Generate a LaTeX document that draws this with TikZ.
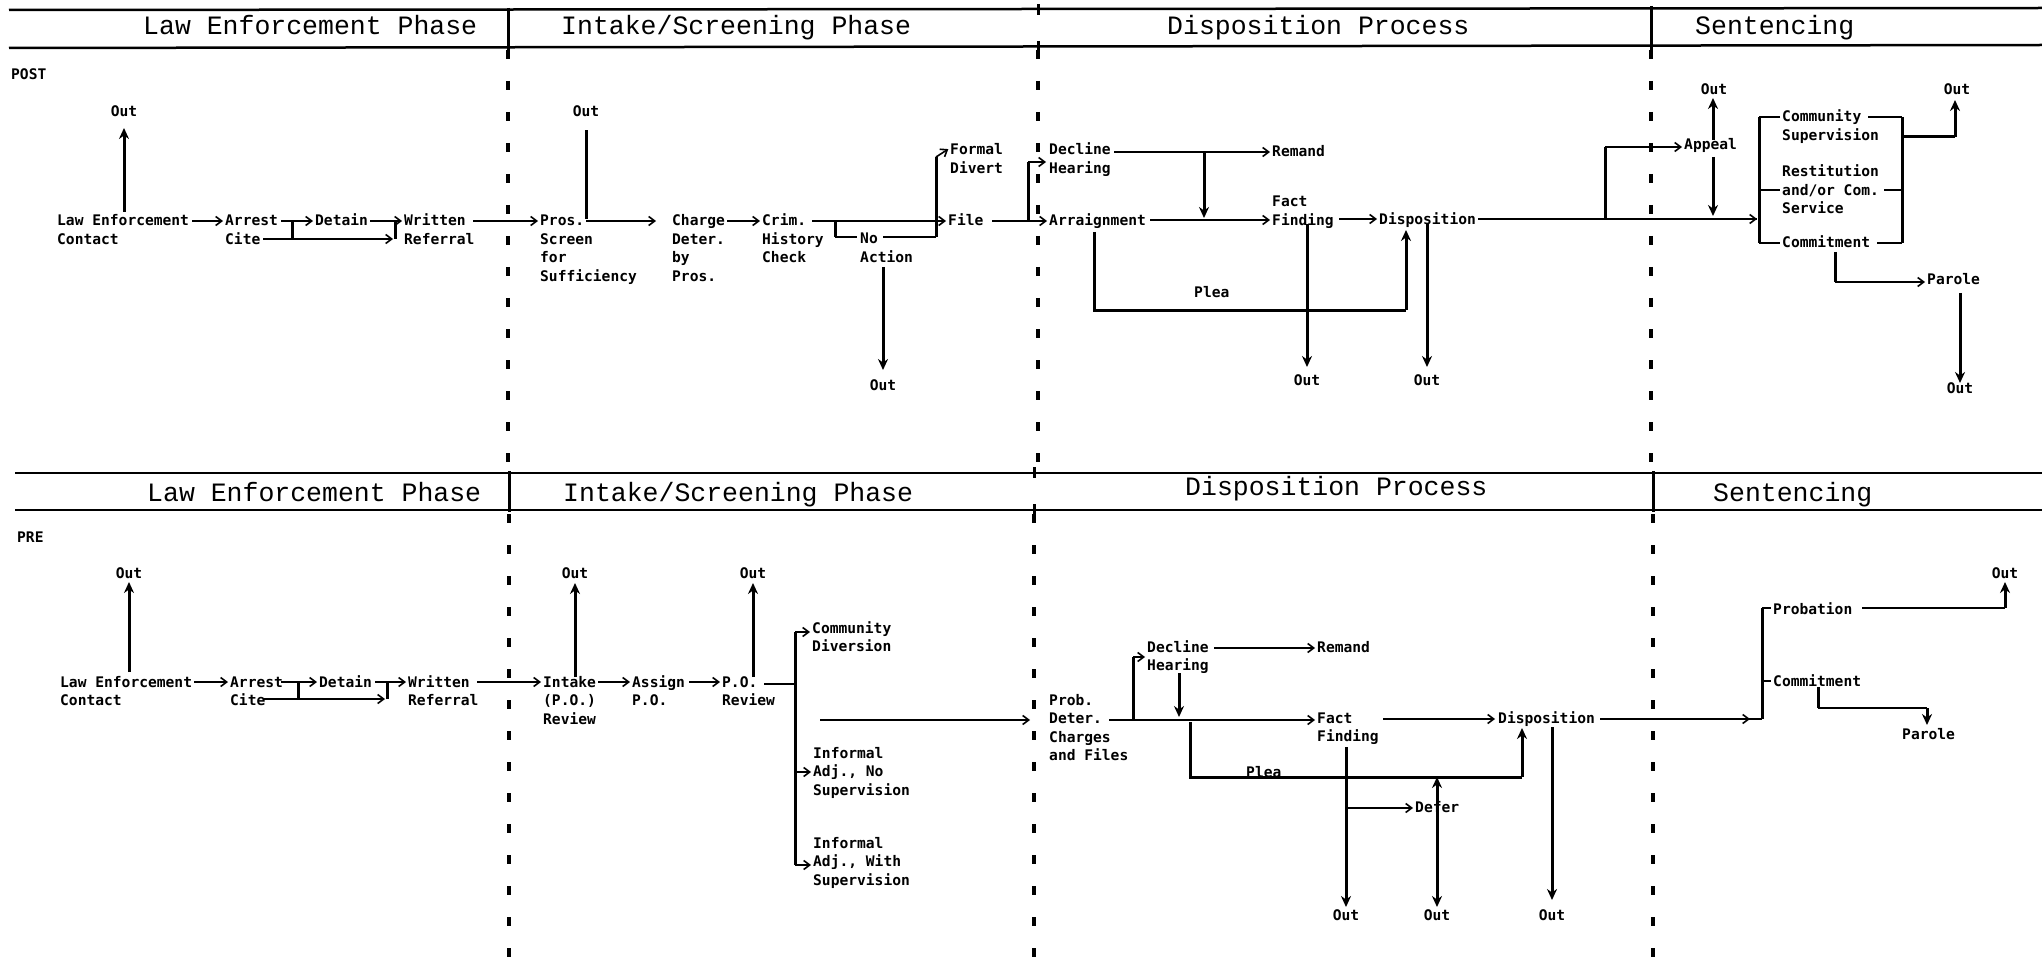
\documentclass[tikz,border=0pt]{standalone}
\usepackage{fontspec}
\usetikzlibrary{arrows.meta}
\newfontfamily\hdrfam{Liberation Mono}
\newfontfamily\nodefam{DejaVu Sans Mono}
\newcommand\hdrf{\hdrfam\fontsize{26.5}{30}\selectfont}
\newcommand\nodef{\nodefam\bfseries\fontsize{14.6}{18.5}\selectfont}
\newcommand\ml[1]{\vtop{\baselineskip=18.5pt\lineskiplimit=-100pt\lineskip=0pt\halign{##\hfil\cr#1\crcr}}}
\tikzset{
  lbl/.style={font=\nodef, inner sep=0pt, anchor=base west},
  outl/.style={font=\nodef, inner sep=0pt, anchor=base},
  hdr/.style={font=\hdrf, inner sep=0pt, anchor=base west},
  lnw/.style={line width=1.6pt},
  thk/.style={line width=3pt},
  arw/.style={lnw, -{Straight Barb[length=6pt,width=9pt,line width=1.6pt]}},
  arn/.style={arw, shorten >=2pt},
  tarw/.style={thk, -{Stealth[length=11pt,width=10pt]}},
  hline/.style={line width=2.5pt},
  dv/.style={line width=3.5pt, dash pattern=on 9pt off 22pt},
}
\begin{document}
\begin{tikzpicture}[x=1pt,y=-1pt]
\fill[white] (0,0) rectangle (2042,968);
\useasboundingbox (0,0) rectangle (2042,968);

% ---------------- headers ----------------
\draw[hline] (9,10) -- (2042,8);
\draw[hline] (9,48) -- (2042,45);
\draw[hline] (15,473) -- (2042,473);
\draw[hline] (15,510) -- (2042,510);
\draw[thk] (508,8) -- (508,50);
\draw[thk] (1651,6) -- (1651,50);
\draw[thk] (509,471) -- (509,512);
\draw[thk] (1653,471) -- (1653,512);
\draw[thk] (1038,4) -- (1038,15);
\draw[thk] (1038,41) -- (1038,54);
\draw[thk] (1034,467) -- (1034,478);
\draw[thk] (1034,504) -- (1034,516);

\node[hdr] (h1) at (143,35) {Law Enforcement Phase};
\node[hdr] (h2) at (561,35) {Intake/Screening Phase};
\node[hdr] (h3) at (1167,35) {Disposition Process};
\node[hdr] (h4) at (1695,35) {Sentencing};
\node[hdr] (h5) at (147,501) {Law Enforcement Phase};
\node[hdr] (h6) at (563,501) {Intake/Screening Phase};
\node[hdr] (h7) at (1185,495) {Disposition Process};
\node[hdr] (h8) at (1713,501) {Sentencing};

% dashed dividers
\draw[dv] (508,50) -- (508,462);
\draw[dv] (1038,50) -- (1038,462);
\draw[dv] (1651,50) -- (1651,462);
\draw[dv] (509,514) -- (509,968);
\draw[dv] (1034,514) -- (1034,968);
\draw[dv] (1653,514) -- (1653,968);

% ---------------- POST ----------------
\node[lbl] (post) at (11,80) {POST};
\node[outl] (o1) at (124,117) {Out};
\node[lbl] (le) at (57,226) {\ml{Law Enforcement\cr Contact}};
\node[lbl] (arrest) at (225,226) {\ml{Arrest\cr Cite}};
\node[lbl] (detain) at (315,226) {Detain};
\node[lbl] (written) at (404,226) {\ml{Written\cr Referral}};
\node[lbl] (pros) at (540,226) {\ml{Pros.\cr Screen\cr for\cr Sufficiency}};
\node[outl] (o2) at (586,117) {Out};
\node[lbl] (charge) at (672,226) {\ml{Charge\cr Deter.\cr by\cr Pros.}};
\node[lbl] (crim) at (762,226) {\ml{Crim.\cr History\cr Check}};
\node[lbl] (noact) at (860,244) {\ml{No\cr Action}};
\node[outl] (o3) at (883,390) {Out};
\node[lbl] (formal) at (950,155) {\ml{Formal\cr Divert}};
\node[lbl] (file) at (948,226) {File};
\node[lbl] (decline) at (1049,155) {\ml{Decline\cr Hearing}};
\node[lbl] (arraign) at (1049,226) {Arraignment};
\node[lbl] (remand) at (1272,157) {Remand};
\node[lbl] (fact) at (1272,207) {\ml{Fact\cr Finding}};
\node[lbl] (disp) at (1379,225) {Disposition};
\node[lbl] (plea) at (1194,298) {Plea};
\node[outl] (o4) at (1307,385) {Out};
\node[outl] (o5) at (1427,385) {Out};
\node[lbl] (appeal) at (1684,150) {Appeal};
\node[outl] (o6) at (1714,95) {Out};
\node[lbl] (comm) at (1782,122) {\ml{Community\cr Supervision}};
\node[lbl] (rest) at (1782,177) {\ml{Restitution\cr and/or Com.\cr Service}};
\node[lbl] (commit) at (1782,248) {Commitment};
\node[outl] (o7) at (1957,95) {Out};
\node[lbl] (parole) at (1927,285) {Parole};
\node[outl] (o8) at (1960,393) {Out};

\draw[tarw] (o1.base |- 0,212) -- ([yshift=-11pt]o1.base);
\draw[arn] (192,221) -- ([yshift=5pt]arrest.base west);
\draw[lnw] (281,221) -- (292,221);
\draw[thk] (292,221) -- (292,239);
\draw[arn] (292,221) -- ([yshift=5pt]detain.base west);
\draw[arw] (263,239) -- (393,239);
\draw[thk] (395,239) -- (395,221);
\draw[arn] (370,221) -- ([yshift=5pt]written.base west);
\draw[arn] (473,221) -- ([yshift=5pt]pros.base west);
\draw[thk] (o2.base |- 0,219) -- ([yshift=-13pt]o2.base);
\draw[arw] (o2.base |- 0,221) -- (656,221);
\draw[arn] (727,221) -- ([yshift=5pt]crim.base west);
\draw[arn] (812,221) -- ([yshift=5pt]file.base west);
\draw[thk] (835,221) -- (835,237);
\draw[lnw] (835,237) -- (857,237);
\draw[lnw] (883,237) -- (936,237);
\draw[thk] (936,237) -- (936,157);
\draw[arn] (936,157) -- ([yshift=7pt]formal.base west);
\draw[tarw] (o3.base |- 0,267) -- ([yshift=20pt]o3.base);
\draw[lnw] (992,221) -- (1028,221);
\draw[thk] (1028,221) -- (1028,162);
\draw[arw] (1028,162) -- (1046,162);
\draw[arn] (1028,221) -- ([yshift=5pt]arraign.base west);
\draw[arn] (1114,152) -- ([yshift=5pt]remand.base west);
\draw[tarw] (1204,152) -- (1204,218);
\draw[arw] (1150,220) -- (1270,220);
\draw[arw] (1339,219) -- (1377,219);
\draw[lnw] (1478,219) -- (1757,219);
\draw[arw] (1700,219) -- (1757,219);
\draw[thk] (1605,219) -- (1605,147);
\draw[arn] (1605,147) -- ([yshift=3pt]appeal.base west);
\draw[thk] (1094,232) -- (1094,310) -- (1406,310);
\draw[tarw] (1406,310) -- (1406,230);
\draw[tarw] (o4.base |- 0,224) -- ([yshift=18pt]o4.base);
\draw[tarw] (o5.base |- 0,224) -- ([yshift=18pt]o5.base);
\draw[tarw] (1713,140) -- (1713,98);
\draw[tarw] (1713,157) -- (1713,216);
% community box
\draw[lnw] (1780,117) -- (1759,117);
\draw[thk] (1759,117) -- (1759,243);
\draw[lnw] (1759,243) -- (1780,243);
\draw[lnw] (1759,190) -- (1780,190);
\draw[lnw] (1868,117) -- (1902,117);
\draw[thk] (1902,117) -- (1902,243);
\draw[lnw] (1902,243) -- (1877,243);
\draw[lnw] (1884,190) -- (1902,190);
\draw[thk] (1902,137) -- (1955,137);
\draw[tarw] (1955,137) -- (1955,100);
\draw[thk] (1835,252) -- (1835,282);
\draw[arn] (1835,282) -- ([yshift=3pt]parole.base west);
\draw[tarw] (o8.base |- 0,293) -- ([yshift=10pt]o8.base);

% ---------------- PRE ----------------
\node[lbl] (pre) at (17,542) {PRE};
\node[outl] (p1) at (129,578) {Out};
\node[lbl] (ple) at (60,687) {\ml{Law Enforcement\cr Contact}};
\node[lbl] (parrest) at (230,687) {\ml{Arrest\cr Cite}};
\node[lbl] (pdetain) at (319,687) {Detain};
\node[lbl] (pwritten) at (408,687) {\ml{Written\cr Referral}};
\node[lbl] (pintake) at (543,687) {\ml{Intake\cr (P.O.)\cr Review}};
\node[outl] (p2) at (575,578) {Out};
\node[lbl] (passign) at (632,687) {\ml{Assign\cr P.O.}};
\node[lbl] (ppo) at (722,687) {\ml{P.O.\cr Review}};
\node[outl] (p3) at (753,578) {Out};
\node[lbl] (pcomdiv) at (812,633) {\ml{Community\cr Diversion}};
\node[lbl] (pinf1) at (813,758) {\ml{Informal\cr Adj., No\cr Supervision}};
\node[lbl] (pinf2) at (813,848) {\ml{Informal\cr Adj., With\cr Supervision}};
\node[lbl] (pprob) at (1049,705) {\ml{Prob.\cr Deter.\cr Charges\cr and Files}};
\node[lbl] (pdecline) at (1147,652) {\ml{Decline\cr Hearing}};
\node[lbl] (premand) at (1317,652) {Remand};
\node[lbl] (pfact) at (1317,723) {\ml{Fact\cr Finding}};
\node[lbl] (pdisp) at (1498,723) {Disposition};
\node[lbl] (pplea) at (1246,777) {Plea};
\node[lbl] (pdefer) at (1415,812) {Defer};
\node[outl] (p4) at (1346,920) {Out};
\node[outl] (p5) at (1437,920) {Out};
\node[outl] (p6) at (1552,920) {Out};
\node[lbl] (pprobation) at (1773,614) {Probation};
\node[lbl] (pcommit) at (1773,686) {Commitment};
\node[outl] (p7) at (2005,578) {Out};
\node[lbl] (pparole) at (1902,739) {Parole};

\coordinate (free) at (820,720);

\draw[tarw] (p1.base |- 0,672) -- ([yshift=-4pt]p1.base);
\draw[arn] (194,682) -- ([yshift=5pt]parrest.base west);
\draw[lnw] (281,682) -- (298,682);
\draw[thk] (298,682) -- (298,699);
\draw[arn] (298,682) -- ([yshift=5pt]pdetain.base west);
\draw[arw] (263,699) -- (385,699);
\draw[thk] (387,699) -- (387,682);
\draw[arn] (375,682) -- ([yshift=5pt]pwritten.base west);
\draw[arn] (477,682) -- ([yshift=5pt]pintake.base west);
\draw[tarw] (p2.base |- 0,677) -- ([yshift=-5pt]p2.base);
\draw[arn] (598,682) -- ([yshift=5pt]passign.base west);
\draw[arn] (689,682) -- ([yshift=5pt]ppo.base west);
\draw[tarw] (p3.base |- 0,677) -- ([yshift=-5pt]p3.base);
\draw[lnw] (764,684) -- (795,684);
\draw[thk] (795,632) -- (795,865);
\draw[arn] (795,632) -- ([yshift=1pt]pcomdiv.base west);
\draw[arn] (795,772) -- ([yshift=-14pt]pinf1.base west);
\draw[arn] (795,865) -- ([yshift=-17pt]pinf2.base west);
\draw[arw] (free) -- (1030,720);
\draw[arw] (1109,720) -- (1315,720);
\draw[thk] (1133,720) -- (1133,657);
\draw[arn] (1133,657) -- ([yshift=-5pt]pdecline.base west);
\draw[arn] (1214,648) -- ([yshift=4pt]premand.base west);
\draw[tarw] (1179,673) -- (1179,717);
\draw[thk] (1190,722) -- (1190,777) -- (1522,777);
\draw[tarw] (1522,777) -- (1522,728);
\draw[arw] (1383,719) -- (1495,719);
\draw[lnw] (1600,719) -- (1762,719);
\draw[arw] (1700,719) -- (1750,719);
\draw[thk] (1762,719) -- (1762,608);
\draw[lnw] (1762,608) -- (1771,608);
\draw[lnw] (1762,681) -- (1771,681);
\draw[lnw] (1862,608) -- (2005,608);
\draw[tarw] (2005,608) -- ([yshift=-4pt]p7.base);
\draw[thk] (1818,687) -- (1818,708);
\draw[lnw] (1818,708) -- (1927,708);
\draw[tarw] (1927,708) -- (1927,725);
\draw[tarw] (p4.base |- 0,747) -- ([yshift=13pt]p4.base);
\draw[arn] (1348,808) -- ([yshift=4pt]pdefer.base west);
\draw[thk, {Stealth[length=11pt,width=10pt]}-{Stealth[length=11pt,width=10pt]}] (p5.base |- 0,777) -- ([yshift=13pt]p5.base);
\draw[tarw] (p6.base |- 0,727) -- ([yshift=20pt]p6.base);
\end{tikzpicture}
\end{document}
